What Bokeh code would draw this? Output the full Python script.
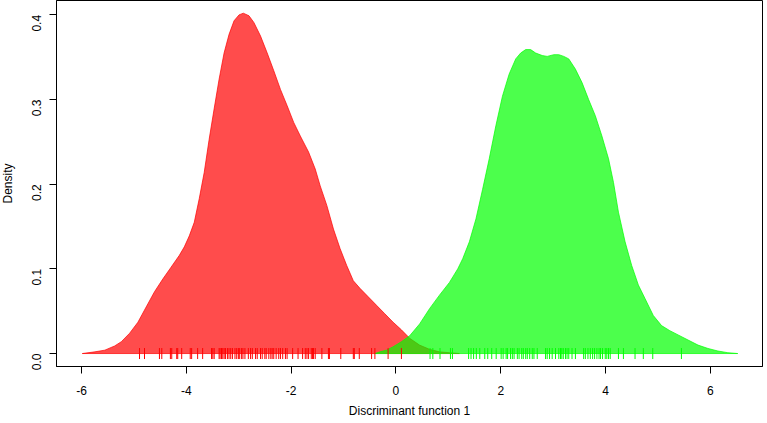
import math
from bokeh.plotting import figure
from bokeh.models import Range1d, FixedTicker, Title
from bokeh.embed import file_html
from bokeh.resources import INLINE

# Density curve of group 1 (red)
red_x = [-5.988, -5.748, -5.558, -5.369, -5.242, -5.084, -4.926, -4.768, -4.609, -4.451,
         -4.293, -4.135, -4.040, -3.945, -3.850, -3.755, -3.660, -3.566, -3.471, -3.376,
         -3.281, -3.186, -3.091, -2.996, -2.914, -2.806, -2.712, -2.585, -2.458, -2.332,
         -2.205, -2.079, -1.952, -1.826, -1.668, -1.541, -1.446, -1.320, -1.193, -1.067,
         -0.940, -0.814, -0.687, -0.529, -0.371, -0.213, -0.054, 0.104, 0.262, 0.45,
         0.64, 0.83, 1.02, 1.21]
red_y = [0.000, 0.002, 0.004, 0.009, 0.014, 0.024, 0.037, 0.055, 0.073, 0.088,
         0.102, 0.116, 0.126, 0.139, 0.155, 0.183, 0.214, 0.253, 0.289, 0.324,
         0.355, 0.377, 0.393, 0.400, 0.402, 0.399, 0.391, 0.375, 0.355, 0.334,
         0.312, 0.293, 0.273, 0.257, 0.238, 0.218, 0.198, 0.175, 0.147, 0.124,
         0.104, 0.086, 0.077, 0.067, 0.057, 0.047, 0.037, 0.028, 0.018, 0.010,
         0.005, 0.002, 0.001, 0.000]

# Density curve of group 2 (green)
green_x = [-0.40, -0.307, -0.181, -0.054, 0.104, 0.262, 0.452, 0.641, 0.831, 1.021,
           1.179, 1.274, 1.401, 1.527, 1.654, 1.780, 1.907, 2.033, 2.160, 2.286,
           2.381, 2.476, 2.571, 2.666, 2.792, 2.887, 3.014, 3.109, 3.204, 3.299,
           3.425, 3.552, 3.678, 3.805, 3.931, 4.058, 4.153, 4.247, 4.374, 4.500,
           4.627, 4.754, 4.912, 5.070, 5.228, 5.386, 5.576, 5.766, 5.956, 6.145,
           6.335, 6.525]
green_y = [0.000, 0.002, 0.004, 0.008, 0.014, 0.021, 0.035, 0.053, 0.069, 0.084,
           0.100, 0.112, 0.132, 0.159, 0.194, 0.230, 0.269, 0.304, 0.330, 0.348,
           0.355, 0.359, 0.359, 0.355, 0.352, 0.351, 0.353, 0.353, 0.351, 0.348,
           0.336, 0.320, 0.300, 0.281, 0.257, 0.230, 0.202, 0.167, 0.132, 0.104,
           0.081, 0.065, 0.045, 0.033, 0.027, 0.022, 0.016, 0.010, 0.006, 0.003,
           0.001, 0.000]

# Rug values (individual discriminant scores)
red_rug = [-4.895, -4.80, -4.515, -4.47, -4.306, -4.28, -4.185, -4.166, -4.09, -3.927,
           -3.90, -3.786, -3.69, -3.52, -3.496, -3.47, -3.376, -3.357, -3.33, -3.306,
           -3.28, -3.255, -3.217, -3.187, -3.154, -3.122, -3.073, -3.04, -3.008, -2.983,
           -2.946, -2.921, -2.883, -2.818, -2.775, -2.742, -2.68, -2.648, -2.585, -2.553,
           -2.503, -2.477, -2.427, -2.389, -2.363, -2.333, -2.287, -2.238, -2.205, -2.162,
           -2.11, -2.078, -1.972, -1.869, -1.782, -1.731, -1.699, -1.668, -1.617, -1.592,
           -1.573, -1.541, -1.414, -1.289, -1.27, -1.053, -0.814, -0.795, -0.70, -0.465,
           -0.402, -0.15, 0.104]
green_rug = [0.651, 0.704, 0.841, 1.04, 1.078, 1.387, 1.433, 1.482, 1.534, 1.60, 1.695,
             1.752, 1.828, 1.913, 2.008, 2.046, 2.103, 2.131, 2.188, 2.222, 2.255, 2.317,
             2.35, 2.401, 2.431, 2.477, 2.507, 2.553, 2.602, 2.634, 2.697, 2.856, 2.887,
             2.932, 2.982, 3.046, 3.109, 3.141, 3.166, 3.194, 3.236, 3.266, 3.299, 3.361,
             3.426, 3.583, 3.615, 3.665, 3.71, 3.754, 3.792, 3.836, 3.877, 3.906, 3.944,
             3.995, 4.025, 4.058, 4.09, 4.247, 4.342, 4.564, 4.722, 4.902, 5.449]

x_ticks = [-6, -4, -2, 0, 2, 4, 6]
x_tick_labels = ["-6", "-4", "-2", "0", "2", "4", "6"]
y_ticks = [0.0, 0.1, 0.2, 0.3, 0.4]
y_tick_labels = ["0.0", "0.1", "0.2", "0.3", "0.4"]
x_title = "Discriminant function 1"
y_title = "Density"

FONT = "Liberation Sans"

p = figure(width=767, height=423, output_backend="svg", toolbar_location=None,
           x_range=Range1d(-6.48, 6.997), y_range=Range1d(-0.0153, 0.417),
           min_border_left=55, min_border_right=2, min_border_top=1, min_border_bottom=55)
p.margin = (-1, -4, -4, -3)
p.background_fill_color = "white"
p.border_fill_color = "white"
p.outline_line_color = "black"
p.outline_line_width = 1
p.xgrid.visible = False
p.ygrid.visible = False

p.patch(red_x, red_y, fill_color="#FF0000", fill_alpha=0.7,
        line_color="#FF0000", line_alpha=0.7, line_width=1)
p.patch(green_x, green_y, fill_color="#00FF00", fill_alpha=0.7,
        line_color="#00FF00", line_alpha=0.7, line_width=1)

p.scatter(red_rug, [0] * len(red_rug), marker="dash", angle=math.pi / 2, size=11,
          line_color="#FF0000", line_width=1)
p.scatter(green_rug, [0] * len(green_rug), marker="dash", angle=math.pi / 2, size=11,
          line_color="#00FF00", line_width=1)

for ax in (p.xaxis[0], p.yaxis[0]):
    ax.axis_line_color = "black"
    ax.major_tick_line_color = "black"
    ax.minor_tick_line_color = None
    ax.major_tick_in = 0
    ax.major_tick_out = 7
    ax.major_label_text_font = FONT
    ax.major_label_text_font_size = "12px"
    ax.major_label_text_color = "black"
    ax.axis_label_text_font = FONT
    ax.axis_label_text_font_size = "12px"
    ax.axis_label_text_font_style = "normal"
    ax.axis_label_text_color = "black"

xa = p.xaxis[0]
xa.ticker = FixedTicker(ticks=x_ticks)
xa.major_label_overrides = dict(zip(x_ticks, x_tick_labels))
xa.major_label_standoff = 12

# x-axis title as a title panel below the axis
p.add_layout(Title(text=x_title, align="center", text_font=FONT, text_font_size="12px",
                   text_font_style="normal", text_color="black", standoff=9), "below")

ya = p.yaxis[0]
ya.ticker = FixedTicker(ticks=y_ticks)
ya.major_label_overrides = dict(zip(y_ticks, y_tick_labels))
ya.major_label_orientation = math.pi / 2
ya.axis_label = y_title
ya.major_label_standoff = 13
ya.axis_label_standoff = 10

open("out.html", "w").write(file_html(p, INLINE))
